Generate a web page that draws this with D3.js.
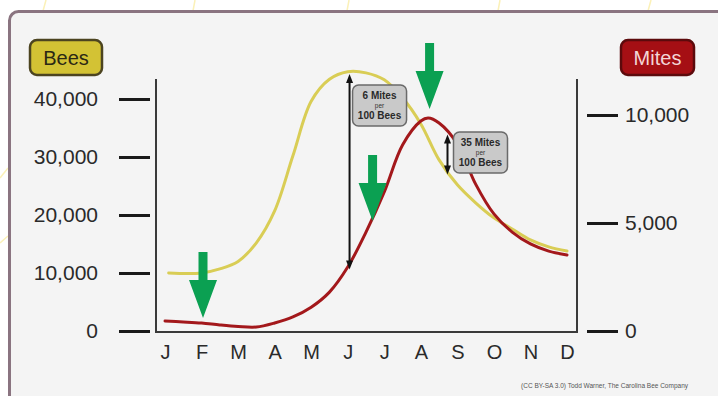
<!DOCTYPE html>
<html><head><meta charset="utf-8">
<script src="https://cdn.jsdelivr.net/npm/d3@7"></script>
<style>
html,body{margin:0;padding:0;background:#fff;}
svg{display:block;font-family:"Liberation Sans",Arial,sans-serif;}
</style></head>
<body><svg id="c" width="718" height="396"></svg>
<script>
// ---- data ----
const months = ["J","F","M","A","M","J","J","A","S","O","N","D"];
const beeTicks = [0,10000,20000,30000,40000];
const miteTicks = [0,5000,10000];
// month index (0=Jan) and value
const beeMonth  = [0.1,1,1.5,2,2.5,3,3.5,4,4.5,5,5.5,6,6.5,7,7.5,8,8.5,9,9.5,10,10.5,11];
const beeValue  = [10000,10000,10700,12000,15200,20700,30200,39600,43400,44700,44500,43300,40200,35700,29500,25200,22100,19500,17600,15700,14500,13800];
const miteMonth = [0,0.5,1,1.5,2,2.5,3,3.5,4,4.5,5,5.5,6,6.5,7,7.2,7.5,8,8.5,9,9.5,10,10.5,11];
const miteValue = [460,420,370,280,210,185,370,650,1100,1800,2960,4580,6440,8610,9720,9860,9630,8660,6800,5420,4580,4030,3700,3520];
// ratio annotations: month, bee value, mite value, label
const ratioMonth = [5.05, 7.73];
const ratioBees  = [44300, 27000];
const ratioMites = [2850, 9100];
const ratioText  = [["6 Mites","per","100 Bees"],["35 Mites","per","100 Bees"]];
// green pointer arrows: month and mite-scale value of the tip
const pointerMonth = [1.04, 5.68, 7.24];
const pointerMites = [600, 5090, 10280];

const svg = d3.select("#c");

// faint honeycomb traces behind the panel
const hex = svg.append("g").attr("stroke","#fbf1b8").attr("stroke-width",1.5).attr("fill","none");
[[46,0,43,11],[195,0,193,11],[349,0,347,11],[500,0,498,11],[651,0,648,11],[0,178,8,168],[0,243,8,236]].forEach(s=>{
  hex.append("line").attr("x1",s[0]).attr("y1",s[1]).attr("x2",s[2]).attr("y2",s[3]);
});

// panel
svg.append("rect").attr("x",9.5).attr("y",11.5).attr("width",760).attr("height",420)
  .attr("rx",9).attr("fill","#f4f4f4").attr("stroke","#8a7480").attr("stroke-width",3);

// scales
const x = d3.scaleLinear().domain([0,11]).range([165,567]);
const yB = d3.scaleLinear().domain([0,40000]).range([331,99]);
const yM = d3.scaleLinear().domain([0,10000]).range([331,115]);

// frame lines
const frame = svg.append("g").attr("stroke","#3a3a3a").attr("stroke-width",2).attr("fill","none");
frame.append("path").attr("d",`M156,79V332H577V79`);

// left axis
const gl = svg.append("g").attr("transform","translate(150,0)")
  .call(d3.axisLeft(yB).tickValues(beeTicks).tickSize(31).tickPadding(21).tickFormat(d3.format(",")));
gl.select(".domain").remove();
gl.selectAll(".tick line").attr("stroke","#1a1a1a").attr("stroke-width",3);
gl.selectAll(".tick text").attr("font-size",21).attr("fill","#2a2a2a").attr("font-family","Liberation Sans, Arial, sans-serif");

// right axis
const gr = svg.append("g").attr("transform","translate(587,0)")
  .call(d3.axisRight(yM).tickValues(miteTicks).tickSize(31).tickPadding(7).tickFormat(d3.format(",")));
gr.select(".domain").remove();
gr.selectAll(".tick line").attr("stroke","#1a1a1a").attr("stroke-width",3);
gr.selectAll(".tick text").attr("font-size",21).attr("fill","#2a2a2a").attr("font-family","Liberation Sans, Arial, sans-serif");

// bottom axis (month letters)
const gb = svg.append("g").attr("transform","translate(0,345)")
  .call(d3.axisBottom(x).tickValues(d3.range(12)).tickSize(0).tickPadding(0).tickFormat(i=>months[i]));
gb.select(".domain").remove();
gb.selectAll(".tick text").attr("font-size",20).attr("fill","#2a2a2a").attr("dy","0.71em")
  .attr("font-family","Liberation Sans, Arial, sans-serif");

// series labels
function badge(x0,y0,w,h,fill,stroke,txt,tcol){
  svg.append("rect").attr("x",x0).attr("y",y0).attr("width",w).attr("height",h).attr("rx",7)
    .attr("fill",fill).attr("stroke",stroke).attr("stroke-width",2.5);
  svg.append("text").attr("x",x0+w/2).attr("y",y0+h/2).attr("dy","0.36em").attr("text-anchor","middle")
    .attr("font-size",20).attr("fill",tcol).text(txt);
}
badge(30,40,72,35,"#d3c234","#4c4420","Bees","#2b2814");
badge(621,40,73,35,"#a50f14","#5c0a0c","Mites","#f3d6d6");

// lines
const line = d3.line().curve(d3.curveCatmullRom.alpha(0.5));
svg.append("path").attr("fill","none").attr("stroke","#d9cd55").attr("stroke-width",3)
  .attr("stroke-linecap","round")
  .attr("d", line(beeMonth.map((m,i)=>[x(m), yB(beeValue[i])])));
svg.append("path").attr("fill","none").attr("stroke","#a3181b").attr("stroke-width",3)
  .attr("stroke-linecap","round")
  .attr("d", line(miteMonth.map((m,i)=>[x(m), yM(miteValue[i])])));

// ratio double arrows and callouts
ratioMonth.forEach((m,i)=>{
  const xx = x(m);
  const yb = yB(ratioBees[i]), ym = yM(ratioMites[i]);
  const top = Math.min(yb,ym), bot = Math.max(yb,ym);
  const g = svg.append("g");
  g.append("line").attr("x1",xx).attr("x2",xx).attr("y1",top+6).attr("y2",bot-6)
    .attr("stroke","#111").attr("stroke-width",2);
  g.append("path").attr("fill","#111").attr("d",`M${xx},${top}L${xx-3.5},${top+9}L${xx+3.5},${top+9}Z`);
  g.append("path").attr("fill","#111").attr("d",`M${xx},${bot}L${xx-3.5},${bot-9}L${xx+3.5},${bot-9}Z`);
  const bx = xx + (i===0 ? 3 : 6), by = (i===0 ? 85 : 132);
  g.append("rect").attr("x",bx).attr("y",by).attr("width",54).attr("height",41).attr("rx",6)
    .attr("fill","#c9c9c9").attr("stroke","#6a6a6a").attr("stroke-width",1.5);
  const cx = bx+27;
  g.append("text").attr("x",cx).attr("y",by+14).attr("text-anchor","middle").attr("font-size",10)
    .attr("font-weight","bold").attr("fill","#2a2a2a").text(ratioText[i][0]);
  g.append("text").attr("x",cx).attr("y",by+22.5).attr("text-anchor","middle").attr("font-size",6.5)
    .attr("fill","#333").text(ratioText[i][1]);
  g.append("text").attr("x",cx).attr("y",by+34).attr("text-anchor","middle").attr("font-size",10)
    .attr("font-weight","bold").attr("fill","#2a2a2a").text(ratioText[i][2]);
});

// green pointer arrows
pointerMonth.forEach((m,i)=>{
  const tx = x(m), ty = yM(pointerMites[i]);
  const d = `M${tx-4.5},${ty-66}H${tx+4.5}V${ty-38}H${tx+14}L${tx},${ty}L${tx-14},${ty-38}H${tx-4.5}Z`;
  svg.append("path").attr("d",d).attr("fill","#0ba052");
});

// credit
svg.append("text").attr("x",688).attr("y",388).attr("text-anchor","end").attr("font-size",6.5)
  .attr("fill","#555").text("(CC BY-SA 3.0) Todd Warner, The Carolina Bee Company");
</script></body></html>
